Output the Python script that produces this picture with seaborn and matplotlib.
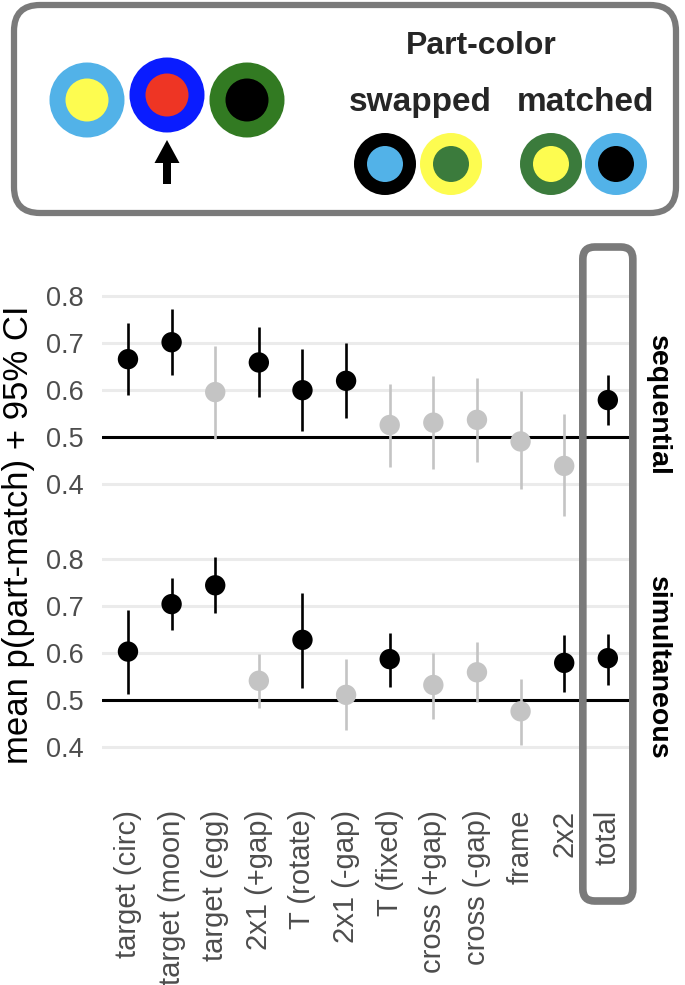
import numpy as np
import pandas as pd
import matplotlib
matplotlib.use("Agg")
import matplotlib.pyplot as plt
import seaborn as sns
from matplotlib.patches import Circle, FancyBboxPatch

# ---- data ----
shapes = ["target (circ)", "target (moon)", "target (egg)", "2x1 (+gap)", "T (rotate)",
          "2x1 (-gap)", "T (fixed)", "cross (+gap)", "cross (-gap)", "frame", "2x2", "total"]

seq_mean = [0.666, 0.702, 0.596, 0.659, 0.600, 0.620, 0.526, 0.531, 0.537, 0.491, 0.439, 0.579]
seq_lo = [0.589, 0.632, 0.496, 0.586, 0.514, 0.540, 0.437, 0.432, 0.448, 0.389, 0.332, 0.526]
seq_hi = [0.742, 0.773, 0.695, 0.734, 0.688, 0.700, 0.614, 0.630, 0.626, 0.599, 0.549, 0.633]

sim_mean = [0.603, 0.704, 0.744, 0.541, 0.628, 0.511, 0.587, 0.532, 0.559, 0.476, 0.579, 0.589]
sim_lo = [0.512, 0.649, 0.685, 0.483, 0.526, 0.436, 0.527, 0.459, 0.496, 0.404, 0.517, 0.533]
sim_hi = [0.692, 0.760, 0.804, 0.598, 0.728, 0.587, 0.642, 0.601, 0.623, 0.544, 0.639, 0.640]

yticks = [0.4, 0.5, 0.6, 0.7, 0.8]

sns.set_theme(style="white")
plt.rcParams["font.family"] = ["Liberation Sans", "DejaVu Sans"]

W, H = 685, 985
fig = plt.figure(figsize=(W / 100, H / 100), dpi=100)

GRAY = "#c4c4c4"
TXT = "#4d4d4d"

left, width = 101.8 / W, 532.2 / W
ax_top = fig.add_axes([left, 1 - 527.5 / H, width, 244.5 / H])
ax_bot = fig.add_axes([left, 1 - 790.3 / H, width, 244.5 / H])


def panel(ax, mean, lo, hi, label, show_x):
    d = pd.DataFrame({"shape": shapes, "mean": mean, "lo": lo, "hi": hi})
    d["sig"] = d["lo"] > 0.5
    ax.axhline(0.5, color="black", lw=2.2, zorder=1)
    cols = ["black" if s else GRAY for s in d["sig"]]
    ax.vlines(np.arange(len(d)), d["lo"], d["hi"], colors=cols, lw=1.9, zorder=2)
    sns.scatterplot(data=d, x="shape", y="mean", hue="sig",
                    palette={True: "black", False: GRAY}, s=215, linewidth=0,
                    legend=False, ax=ax, zorder=3)
    ax.set_xlim(-0.6, len(shapes) - 0.4)
    ax.set_ylim(0.308, 0.828)
    ax.set_yticks(yticks)
    ax.set_yticklabels([f"{v:.1f}" for v in yticks])
    ax.yaxis.grid(True, color="#ebebeb", lw=2.2, zorder=0)
    ax.xaxis.grid(False)
    ax.set_axisbelow(True)
    for s in ax.spines.values():
        s.set_visible(False)
    ax.tick_params(axis="y", length=0, pad=13, labelsize=19.5, labelcolor=TXT)
    ax.tick_params(axis="x", length=0, pad=14, labelsize=21, labelcolor=TXT)
    ax.set_xlabel("")
    ax.set_ylabel("")
    if show_x:
        ax.set_xticks(range(len(shapes)))
        ax.set_xticklabels(shapes, rotation=90)
    else:
        ax.set_xticklabels([])
    ax.text(1.045, 0.5, label, transform=ax.transAxes, rotation=270,
            ha="center", va="center", fontsize=20.5, fontweight="bold", color="black")


panel(ax_top, seq_mean, seq_lo, seq_hi, "sequential", False)
panel(ax_bot, sim_mean, sim_lo, sim_hi, "simultaneous", True)

fig.text(19 / W, 1 - 535 / H, "mean p(part-match) + 95% CI", rotation=90,
         ha="center", va="center", fontsize=25, color="black")

# ---- overlay in pixel coordinates for the legend panel and the "total" box ----
ov = fig.add_axes([0, 0, 1, 1], zorder=5)
ov.set_xlim(0, W)
ov.set_ylim(H, 0)
ov.axis("off")
ov.patch.set_alpha(0)

BOX = "#7a7a7a"
ov.add_patch(FancyBboxPatch((14, 5), 662, 208, boxstyle="round,pad=0,rounding_size=26",
                            fc="none", ec=BOX, lw=4.5))

LBLUE, YEL, BLUE, RED = "#52b2e8", "#fdfc50", "#0a1cff", "#ee3524"
DGREEN, SGREEN = "#327a22", "#3b7b3c"

big = [(87, 100, LBLUE, YEL), (167, 95, BLUE, RED), (247, 100, DGREEN, "black")]
for cx, cy, outer, inner in big:
    ov.add_patch(Circle((cx, cy), 37.5, fc=outer, ec="none"))
    ov.add_patch(Circle((cx, cy), 21.5, fc=inner, ec="none"))

ov.arrow(167, 184, 0, -44, width=8, head_width=25, head_length=23,
         length_includes_head=True, fc="black", ec="none")

small = [(385, 164, "black", LBLUE), (451, 164, YEL, SGREEN),
         (551, 164, SGREEN, YEL), (616, 164, LBLUE, "black")]
for cx, cy, outer, inner in small:
    ov.add_patch(Circle((cx, cy), 31, fc=outer, ec="none"))
    ov.add_patch(Circle((cx, cy), 18, fc=inner, ec="none"))

ov.text(481, 46, "Part-color", ha="center", va="center", fontsize=23, fontweight="bold")
ov.text(420, 111, "swapped", ha="center", va="baseline", fontsize=24, fontweight="bold")
ov.text(585, 111, "matched", ha="center", va="baseline", fontsize=24, fontweight="bold")

# box around the "total" column, centred on that category
xt = ax_bot.transData.transform((len(shapes) - 1, 0))[0]
ov.add_patch(FancyBboxPatch((xt - 25, 247), 50, 654, boxstyle="round,pad=0,rounding_size=12",
                            fc="none", ec=BOX, lw=5.5))

fig.savefig("out.png", dpi=100)
